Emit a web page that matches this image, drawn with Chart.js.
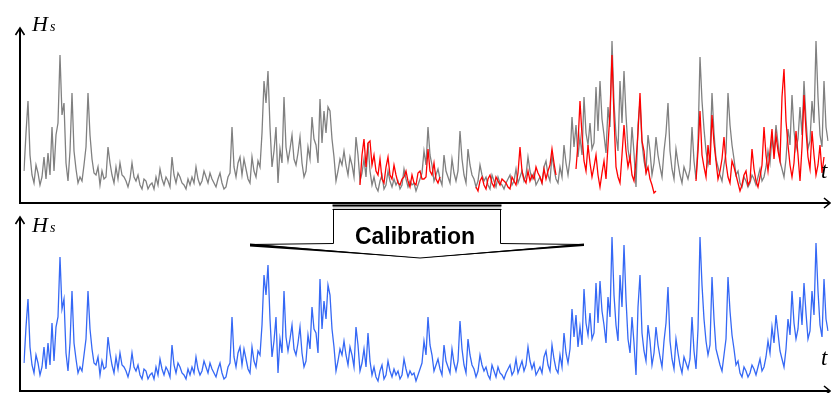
<!DOCTYPE html>
<html lang="en">
<head>
<meta charset="UTF-8">
<title>Hs calibration</title>
<script src="https://cdn.jsdelivr.net/npm/chart.js"></script>
<style>
  body { margin: 0; background: #fff; }
  #wrap { position: relative; width: 831px; height: 393px; }
  #wrap canvas { position: absolute; left: 0; top: 0; }
</style>
</head>
<body>
<div id="wrap">
  <canvas id="hind" width="831" height="393"></canvas>
  <canvas id="calib" width="831" height="393"></canvas>
</div>
<script>
// significant wave height (m), one value per time step
const hindcast = [
  1.6,3.5,5.1,2.4,1.4,1.0,1.9,1.5,0.9,1.3,2.3,1.2,2.5,1.4,3.8,1.6,3.4,4.0,7.4,4.4,5.0,2.0,1.1,2.6,5.5,2.6,1.7,1.0,1.3,1.1,1.9,2.8,5.5,3.4,2.2,1.5,1.4,1.8,0.9,1.6,
  1.2,1.3,2.8,2.0,1.4,1.0,1.8,1.2,2.0,1.4,1.3,1.1,0.8,1.2,2.0,1.3,1.1,1.4,0.9,0.7,1.2,1.1,0.7,0.9,1.0,0.7,1.3,0.9,1.7,1.2,0.9,1.3,1.1,0.8,2.3,1.4,1.0,1.5,1.3,1.0,
  0.9,0.7,1.2,0.9,1.3,1.0,1.8,1.2,0.9,1.1,1.6,1.3,1.0,1.5,1.2,1.0,0.8,1.2,1.5,1.0,0.7,0.8,1.3,1.5,3.8,1.8,1.3,2.0,2.3,1.4,2.2,1.7,1.2,1.0,2.3,1.6,1.3,2.1,1.8,3.5,
  6.1,5.0,6.6,3.8,1.8,2.6,3.8,1.0,2.7,2.0,5.3,2.8,2.1,2.7,3.4,2.2,1.9,2.5,3.3,2.0,1.3,1.6,2.8,2.2,4.3,3.2,2.9,2.0,5.2,3.0,4.6,3.5,4.8,4.6,3.2,2.3,1.1,1.6,2.2,1.9,
  2.6,1.9,1.4,2.3,1.9,1.3,3.3,2.4,1.1,1.5,2.2,1.3,3.0,1.6,0.9,1.3,0.8,0.6,1.1,1.4,0.7,0.9,1.6,1.1,0.8,1.2,0.9,1.1,0.7,0.9,1.7,1.2,0.8,1.1,0.9,1.0,0.6,0.9,1.2,1.5,
  2.6,1.9,3.8,2.4,1.9,1.1,1.4,1.7,1.2,0.9,2.4,1.6,1.3,1.0,2.2,1.5,1.1,1.6,3.6,2.2,1.4,1.0,2.7,1.9,1.4,1.2,0.8,1.1,1.9,1.4,
  1.1,1.3,0.9,0.7,1.4,1.1,0.8,1.3,1.0,0.9,0.7,1.0,1.2,1.4,0.9,1.1,1.7,1.0,1.3,1.6,1.1,1.4,2.3,1.6,1.2,1.5,0.9,1.1,1.3,1.0,1.8,2.1,1.4,1.1,2.4,1.7,1.2,1.0,1.8,1.3,
  2.9,2.0,1.4,2.2,4.3,2.8,3.9,2.3,3.3,2.4,5.3,3.5,2.9,4.0,2.7,3.0,5.8,3.6,6.1,4.2,3.4,2.5,4.8,3.8,8.1,5.0,3.4,2.6,6.1,4.0,6.6,4.4,2.7,2.0,3.8,2.5,0.8,3.9,5.1,3.0,
  2.1,1.6,3.4,2.6,1.4,2.0,3.3,2.4,1.8,1.3,2.6,3.5,
  5.0,2.6,1.7,1.2,2.7,2.0,1.4,1.0,1.8,1.5,1.2,1.7,3.8,2.1,1.2,3.0,7.3,5.1,3.7,2.6,1.9,2.4,5.5,3.5,2.2,1.8,1.4,1.1,1.9,2.5,5.5,3.9,2.9,2.2,1.4,1.6,1.0,0.8,1.3,1.1,
  0.8,1.0,1.4,1.2,0.9,1.3,1.7,1.1,1.3,1.8,2.6,2.0,3.3,2.5,3.9,3.0,2.1,1.7,1.3,2.2,3.7,2.9,5.4,3.6,2.7,3.2,4.8,3.4,6.1,4.2,2.7,3.1,5.1,4.0,8.1,5.3,3.4,2.8,6.1,3.8,
  3.1
];

// buoy records, each block begins at the step given in obsStart
const obsStart = [168, 226, 276, 336];
const obs1 = [0.9,2.4,3.2,1.8,3.0,3.1,1.9,2.4,1.6,1.4,2.2,1.2,1.0,1.8,2.3,1.4,1.2,1.9,1.4,1.0,0.9,1.2,1.3,1.6,1.1,0.8,1.4,1.0,0.9,1.5,1.6,1.2,1.2,1.3,2.7,1.6,1.4,2.0,1.2,1.0,1.3];
const obs2 = [0.8,0.6,1.1,1.3,0.9,0.7,1.2,1.4,1.0,0.8,1.3,1.1,0.9,1.2,1.1,1.0,0.8,0.7,1.3,1.1,0.9,1.5,2.8,1.6,1.2,1.0,1.6,1.1,1.4,1.2,1.8,1.5,1.3,1.0,1.7,1.2,1.6,1.9,2.7,2.0,1.4];
const obs3 = [1.7,3.0,5.1,3.4,2.1,1.6,2.9,2.0,1.3,1.8,2.4,1.4,0.8,1.5,2.1,1.2,2.9,4.5,7.4,4.3,1.8,1.3,1.0,2.4,3.9,2.6,1.8,2.3,1.4,1.1,2.1,3.5,5.5,3.1,2.6,1.5,1.8,1.2,0.9,0.5,0.6];
const obs4 = [1.1,2.6,4.6,2.4,1.8,1.3,2.9,1.9,4.4,3.0,2.1,1.2,1.6,2.2,3.3,2.0,1.3,1.0,2.1,1.8,1.4,1.0,0.6,0.9,1.4,1.6,0.9,1.1,2.7,1.7,1.1,0.8,1.3,1.9,3.8,2.4,1.6,2.6,3.7,2.2,
              3.4,2.6,2.1,5.3,6.7,4.1,2.9,1.9,1.3,2.0,3.6,2.4,1.1,2.8,5.4,3.6,2.3,1.7,3.6,2.4,1.4,1.9,2.9,1.5,2.3];

// calibrated hindcast
const calibrated = [
  1.4,3.2,4.6,2.2,1.3,0.9,1.8,1.4,0.8,1.2,2.2,1.1,2.4,1.3,3.4,1.5,3.2,3.7,6.7,4.1,4.6,1.9,1.0,2.4,5.0,2.4,1.6,0.9,1.2,1.0,1.8,2.6,5.0,3.1,2.1,1.4,1.3,1.7,0.8,1.5,
  1.1,1.2,2.7,1.9,1.3,0.9,1.7,1.1,1.9,1.3,1.2,1.0,0.7,1.1,1.9,1.2,1.0,1.3,0.8,0.6,1.1,1.0,0.6,0.8,0.9,0.6,1.2,0.8,1.6,1.1,0.8,1.2,1.0,0.7,2.3,1.3,0.9,1.4,1.2,0.9,
  0.8,0.6,1.1,0.8,1.2,0.9,1.7,1.1,0.8,1.0,1.5,1.2,0.9,1.4,1.1,0.9,0.7,1.1,1.4,0.9,0.6,0.7,1.2,1.4,3.7,1.7,1.2,1.9,2.2,1.3,2.1,1.6,1.1,0.9,2.2,1.5,1.2,2.0,1.8,3.3,
  5.8,4.8,6.3,3.6,1.7,2.5,3.7,0.9,2.6,1.9,5.0,2.7,2.0,2.6,3.3,2.1,1.8,2.4,3.2,1.9,1.2,1.5,2.8,2.1,4.2,3.1,2.9,1.9,5.6,3.1,4.5,3.6,5.3,4.8,3.1,2.2,1.0,1.5,2.1,1.8,
  2.5,1.8,1.3,2.2,1.8,1.2,3.2,2.3,1.0,1.4,2.1,1.2,2.9,1.5,0.8,1.2,0.7,0.5,1.0,1.3,0.6,0.8,1.5,1.0,0.7,1.1,0.8,1.0,0.6,0.8,1.6,1.1,0.7,1.0,0.8,0.9,0.5,0.8,1.1,1.4,
  2.5,1.8,3.7,2.3,1.8,1.0,1.3,1.6,1.1,0.8,2.3,1.5,1.2,0.9,2.1,1.4,1.0,1.5,3.5,2.1,1.3,0.9,2.6,1.8,1.3,1.1,0.7,1.0,1.8,1.3,
  1.0,1.2,0.8,0.6,1.3,1.0,0.7,1.2,0.9,0.8,0.6,0.9,1.1,1.3,0.8,1.0,1.6,0.9,1.2,1.5,1.0,1.3,2.2,1.5,1.1,1.4,0.8,1.0,1.2,0.9,1.7,2.0,1.3,1.0,2.3,1.6,1.1,0.9,1.8,1.2,
  2.9,1.9,1.4,2.1,4.1,2.7,3.8,2.2,3.2,2.3,5.1,3.4,2.8,3.9,2.6,2.9,5.4,3.4,5.5,4.0,3.3,2.4,4.7,3.7,7.7,4.8,3.3,2.5,5.8,4.2,7.3,4.6,2.6,1.9,3.7,2.4,0.8,4.2,5.8,2.9,
  2.0,1.5,3.3,2.5,1.3,1.9,3.2,2.3,1.7,1.2,2.5,3.4,
  5.2,2.5,1.6,1.1,2.6,1.9,1.3,0.9,1.7,1.4,1.1,1.6,3.7,2.0,1.1,3.1,7.7,5.3,3.6,2.5,1.8,2.3,5.7,3.6,2.1,1.7,1.3,1.0,1.8,2.6,5.7,4.0,2.8,2.1,1.3,1.5,0.9,0.7,1.2,1.0,
  0.7,0.9,1.3,1.1,0.8,1.2,1.6,1.0,1.2,1.7,2.5,1.9,3.2,2.4,3.8,2.9,2.0,1.6,1.2,2.1,3.6,2.8,5.0,3.4,2.6,3.1,4.7,3.3,5.4,3.9,2.6,3.0,5.0,3.8,7.4,5.0,3.3,2.7,5.6,3.6,
  3.0
];

const steps = hindcast.map((_, i) => i);

// spread the buoy blocks over the full time line, gaps stay null
const observed = steps.map(() => null);
[obs1, obs2, obs3, obs4].forEach((block, k) => {
  block.forEach((v, j) => { observed[obsStart[k] + j] = v; });
});

// hand drawn axes: arrows on y and t, plus the H_s / t labels
function axesPlugin(labelDy, tDy) {
  return {
    id: 'axes',
    afterDraw(chart) {
      const ctx = chart.ctx;
      const y0 = chart.scales.y.getPixelForValue(0);
      const yTop = chart.chartArea.top - 2;
      ctx.save();
      ctx.strokeStyle = '#000';
      ctx.lineWidth = 2;
      ctx.beginPath();
      ctx.moveTo(20, y0); ctx.lineTo(20, yTop);
      ctx.moveTo(19, y0); ctx.lineTo(830, y0);
      ctx.stroke();
      ctx.lineWidth = 1.6;
      ctx.beginPath();
      ctx.moveTo(15.5, yTop + 7); ctx.lineTo(20, yTop); ctx.lineTo(24.5, yTop + 7);
      ctx.moveTo(824, y0 - 5); ctx.lineTo(830, y0); ctx.lineTo(824, y0 + 5);
      ctx.stroke();

      ctx.fillStyle = '#000';
      ctx.font = 'italic 22px "Liberation Serif"';
      ctx.fillText('H', 32, y0 - labelDy);
      ctx.font = 'italic 14px "Liberation Serif"';
      ctx.fillText('s', 50, y0 - labelDy);
      ctx.font = 'italic 23px "Liberation Serif"';
      ctx.fillText('t', 821, y0 - tDy);
      ctx.restore();
    }
  };
}

// the big "Calibration" arrow between the panels
const arrowPlugin = {
  id: 'calibArrow',
  afterDraw(chart) {
    const ctx = chart.ctx;
    ctx.save();
    ctx.fillStyle = '#fff';
    ctx.strokeStyle = '#000';
    ctx.lineWidth = 1;
    ctx.beginPath();
    ctx.moveTo(333.5, 209);
    ctx.lineTo(333.5, 243.5);
    ctx.lineTo(250, 244.5);
    ctx.lineTo(420, 258);
    ctx.lineTo(584, 244.5);
    ctx.lineTo(500.5, 243.5);
    ctx.lineTo(500.5, 209);
    ctx.closePath();
    ctx.fill();
    ctx.stroke();

    // double bar on top
    ctx.fillStyle = '#d8d8d8';
    ctx.fillRect(333, 206, 168, 3);
    ctx.lineWidth = 2;
    ctx.beginPath(); ctx.moveTo(332.5, 205.5); ctx.lineTo(501.5, 205.5); ctx.stroke();
    ctx.lineWidth = 1;
    ctx.beginPath(); ctx.moveTo(332.5, 209.5); ctx.lineTo(501.5, 209.5); ctx.stroke();

    // heavier outer ends of the head
    ctx.fillStyle = '#000';
    ctx.beginPath();
    ctx.moveTo(250, 243.5); ctx.lineTo(420, 258); ctx.lineTo(250, 246.5); ctx.closePath();
    ctx.fill();
    ctx.beginPath();
    ctx.moveTo(584, 243.5); ctx.lineTo(420, 258); ctx.lineTo(584, 246); ctx.closePath();
    ctx.fill();

    ctx.font = 'bold 23px "Liberation Sans"';
    ctx.textAlign = 'center';
    ctx.fillText('Calibration', 415, 244);
    ctx.restore();
  }
};

const common = {
  responsive: false,
  animation: false,
  events: [],
  plugins: { legend: { display: false }, tooltip: { enabled: false } },
  elements: { point: { radius: 0 }, line: { tension: 0 } }
};

new Chart(document.getElementById('hind'), {
  type: 'line',
  data: {
    labels: steps,
    datasets: [
      { data: observed, borderColor: '#ff0000', borderWidth: 1.3, spanGaps: false, order: 0 },
      { data: hindcast, borderColor: '#808080', borderWidth: 1.3, order: 1 }
    ]
  },
  options: {
    ...common,
    layout: { padding: { left: 24, right: 3, top: 30, bottom: 190 } },
    scales: {
      x: { display: false },
      y: { display: false, min: 0, max: 8.65 }
    }
  },
  plugins: [axesPlugin(172, 25)]
});

new Chart(document.getElementById('calib'), {
  type: 'line',
  data: {
    labels: steps,
    datasets: [
      { data: calibrated, borderColor: '#3568f5', borderWidth: 1.3 }
    ]
  },
  options: {
    ...common,
    layout: { padding: { left: 24, right: 3, top: 219, bottom: 2 } },
    scales: {
      x: { display: false },
      y: { display: false, min: 0, max: 8.6 }
    }
  },
  plugins: [axesPlugin(159, 26), arrowPlugin]
});
</script>
</body>
</html>
